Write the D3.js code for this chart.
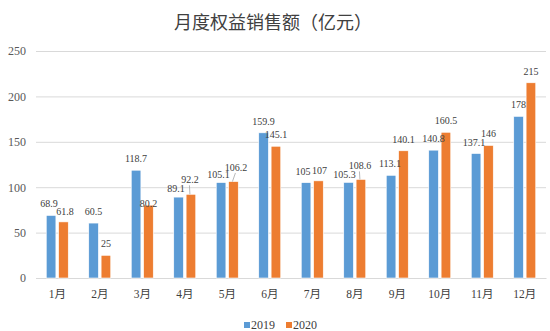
<!DOCTYPE html>
<html><head><meta charset="utf-8">
<script src="https://cdn.jsdelivr.net/npm/d3@7"></script>
<style>body{margin:0;background:#fff}svg{display:block}</style>
</head><body>
<svg id="c" width="550" height="331"></svg>
<script>
const months = ["1月","2月","3月","4月","5月","6月","7月","8月","9月","10月","11月","12月"];
const series = ["2019","2020"];
const v2019 = [68.9,60.5,118.7,89.1,105.1,159.9,105,105.3,113.1,140.8,137.1,178];
const v2020 = [61.8,25,80.2,92.2,106.2,145.1,107,108.6,140.1,160.5,146,215];
const yTicks = [0,50,100,150,200,250];
const colors = ["#5B9BD5","#ED7D31"];
const title = "月度权益销售额（亿元）";

const svg = d3.select("#c");
const m = {l:36, r:4, t:51, b:53};
const W = 550, H = 331;
const x = d3.scaleBand().domain(months).range([m.l, W-m.r]).paddingInner(0).paddingOuter(0);
const xs = d3.scaleBand().domain(series).range([0, 22]).paddingInner(0.22);
const y = d3.scaleLinear().domain([0,250]).range([H-m.b, m.t]);
const serif = "'Liberation Serif','Times New Roman',serif";
const cjk = "'Liberation Serif','Noto Sans CJK SC',serif";

svg.append("text").attr("x",273).attr("y",29).attr("text-anchor","middle")
  .attr("font-family","'Noto Sans CJK SC',sans-serif").attr("font-size",18).attr("fill","#404040").text(title);

const ya = svg.append("g").attr("transform",`translate(${m.l},0)`)
  .call(d3.axisLeft(y).tickValues(yTicks).tickSize(-(W-m.l-m.r)).tickPadding(10).tickFormat(d3.format("d")));
ya.select(".domain").remove();
ya.selectAll("line").attr("stroke","#D9D9D9");
ya.selectAll("text").attr("font-family",serif).attr("font-size",12).attr("fill","#595959");

const xa = svg.append("g").attr("transform",`translate(0,${H-m.b})`).call(d3.axisBottom(x).tickSize(0).tickPadding(12));
xa.select(".domain").attr("stroke","#D9D9D9");
xa.selectAll("text").attr("font-family",cjk).attr("font-size",11.5).attr("fill","#404040");

// label placement tweaks (layout only): [dx, dy, leader line]
const nudge = {
  "1月|0":[-2,0], "1月|1":[1.5,1],
  "3月|1":[0,10],
  "4月|0":[-2.5,3], "4月|1":[-1,-3,true],
  "5月|0":[-2.5,3.7], "5月|1":[2.5,-2.6,true],
  "7月|0":[-3,0], "7月|1":[1,1.4],
  "8月|0":[-4,4], "8月|1":[-1,-2,true],
  "9月|0":[-1,0],
  "11月|0":[-2,0]
};

const data = months.map((mo,i)=>({mo, vals:[v2019[i], v2020[i]]}));
const g = svg.append("g");
const off = (x.bandwidth()-22)/2;
series.forEach((s,si)=>{
  g.selectAll(".b"+si).data(data).enter().append("rect")
    .attr("x",d=>x(d.mo)+off+xs(s)).attr("width",xs.bandwidth())
    .attr("y",d=>y(d.vals[si])).attr("height",d=>y(0)-y(d.vals[si]))
    .attr("fill",colors[si]).attr("stroke","#fff").attr("stroke-width",0.6);
});
series.forEach((s,si)=>{
  data.forEach(d=>{
    const n = nudge[d.mo+"|"+si] || [0,0];
    const cx = x(d.mo)+off+xs(s)+xs.bandwidth()/2;
    const top = y(d.vals[si]);
    const by = top-8+n[1];
    if(n[2]){
      g.append("line").attr("x1",cx+n[0]-0.5).attr("x2",cx-1).attr("y1",by+2).attr("y2",top)
        .attr("stroke","#A6A6A6").attr("stroke-width",0.8);
    }
    g.append("text").attr("x",cx+n[0]).attr("y",by)
      .attr("text-anchor","middle").attr("font-family",serif).attr("font-size",10).attr("fill","#404040")
      .text(d.vals[si]);
  });
});

const lg = svg.append("g").attr("transform","translate(244,329)");
series.forEach((s,i)=>{
  const gx = i*42;
  lg.append("rect").attr("x",gx).attr("y",-7).attr("width",6).attr("height",6).attr("fill",colors[i]);
  lg.append("text").attr("x",gx+7).attr("y",0).attr("font-family",serif).attr("font-size",12).attr("fill","#404040").text(s);
});
</script>
</body></html>
